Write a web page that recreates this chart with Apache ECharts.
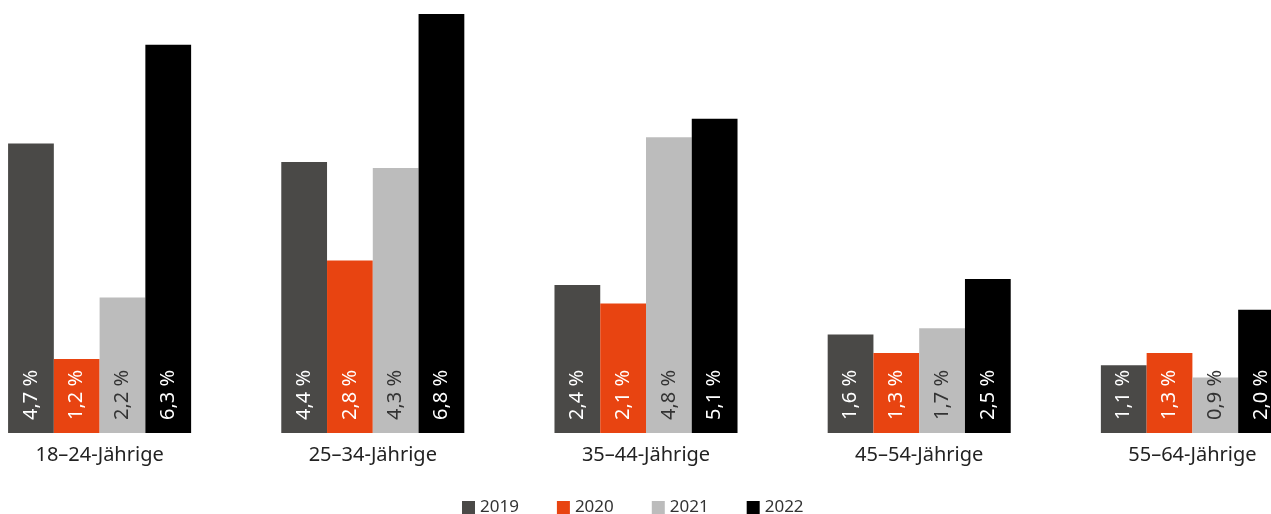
<!DOCTYPE html>
<html><head><meta charset="utf-8">
<script src="https://cdn.jsdelivr.net/npm/echarts@6/dist/echarts.min.js"></script>
<style>html,body{margin:0;padding:0;background:#fff;overflow:hidden}#c{width:1366px;height:514px;margin-left:-37px}</style>
</head><body><div id="c"></div>
<script>
const categories = ['18–24-Jährige','25–34-Jährige','35–44-Jährige','45–54-Jährige','55–64-Jährige'];
const seriesNames = ['2019','2020','2021','2022'];
const v2019 = [4.7, 4.4, 2.4, 1.6, 1.1];
const v2020 = [1.2, 2.8, 2.1, 1.3, 1.3];
const v2021 = [2.2, 4.3, 4.8, 1.7, 0.9];
const v2022 = [6.3, 6.8, 5.1, 2.5, 2.0];
const values = [v2019, v2020, v2021, v2022];
const colors = ['#4a4947', '#e84411', '#bcbcbc', '#000000'];
const labelColors = ['#ffffff', '#ffffff', '#333333', '#ffffff'];
const FONT = '"Noto Sans", sans-serif';

const chart = echarts.init(document.getElementById('c'));
chart.setOption({
  animation: false,
  grid: { left: 0, right: 0, top: 14, bottom: 81, containLabel: false },
  legend: {
    top: 494, left: 494, itemWidth: 13, itemHeight: 13, itemGap: 38,
    icon: 'rect',
    textStyle: { fontFamily: FONT, fontSize: 17, color: '#333' },
    data: seriesNames
  },
  xAxis: {
    type: 'category', data: categories,
    axisLine: { show: false }, axisTick: { show: false },
    axisLabel: { fontFamily: FONT, fontSize: 20, color: '#222', margin: 12 }
  },
  yAxis: { type: 'value', min: 0, max: 6.8, show: false, splitLine: { show: false } },
  series: seriesNames.map((n, i) => ({
    name: n, type: 'bar', data: values[i],
    barGap: '0%', barCategoryGap: '33%',
    itemStyle: { color: colors[i] },
    label: {
      show: true, position: 'insideBottom', rotate: 90, align: 'left', verticalAlign: 'middle',
      distance: 13, fontFamily: FONT, fontSize: 20, color: labelColors[i],
      formatter: p => p.value.toFixed(1).replace('.', ',') + ' %'
    }
  }))
});
</script></body></html>
